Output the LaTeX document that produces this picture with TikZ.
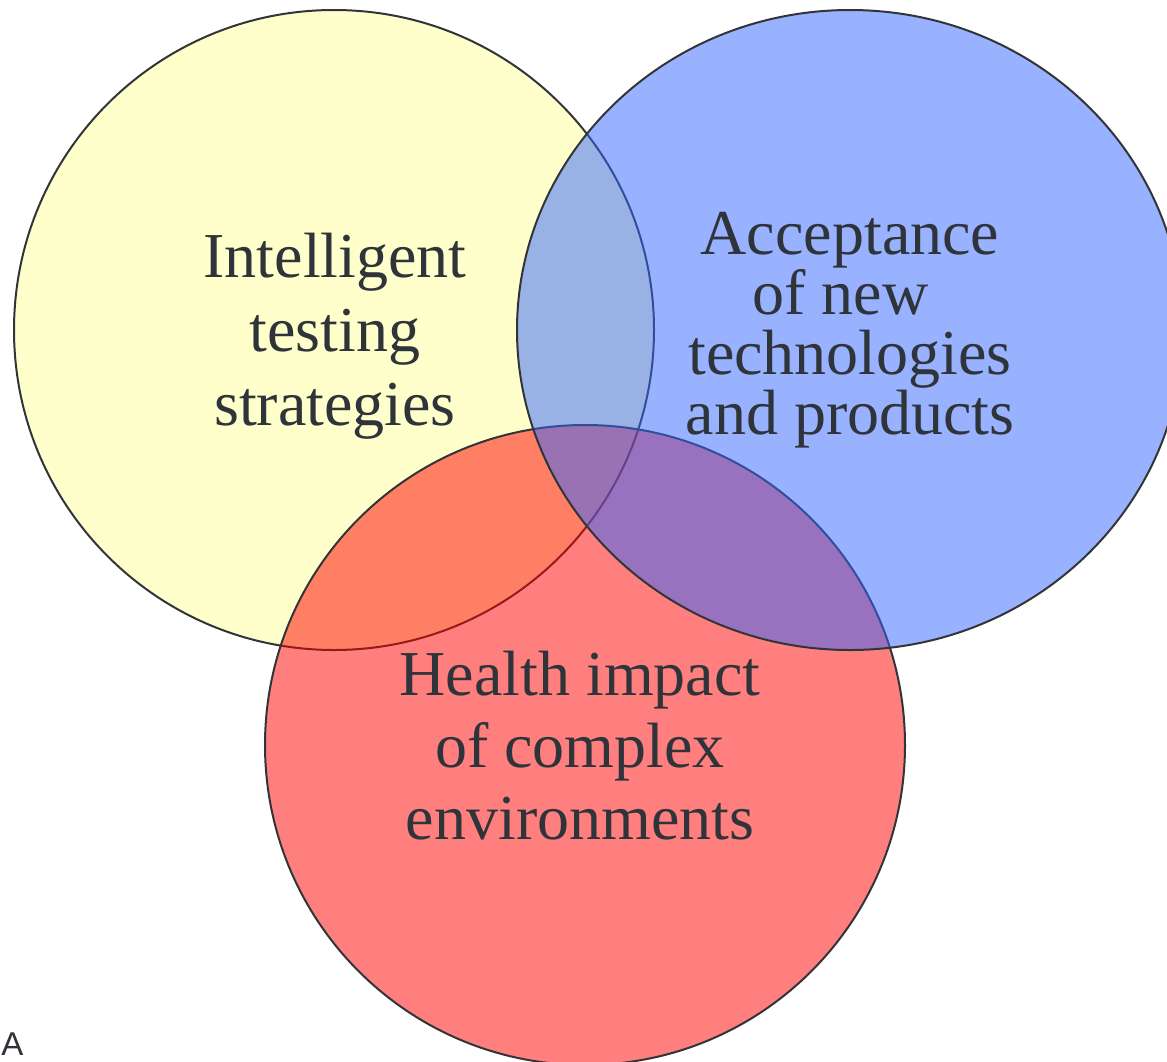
\documentclass[tikz,border=0pt]{standalone}
\usepackage{fontspec}
\setmainfont{Liberation Serif}
\newfontfamily\panelfont{Liberation Sans}

\definecolor{vennyellow}{RGB}{255,255,153}
\definecolor{vennred}{RGB}{255,0,0}
\definecolor{vennblue}{RGB}{51,103,255}
\definecolor{vennline}{RGB}{50,52,55}
\definecolor{venntext}{RGB}{46,52,57}

\begin{document}
\begin{tikzpicture}[x=0.5pt, y=-0.5pt,
    set/.style={draw=vennline, line width=1pt, fill opacity=0.5},
    setlabel/.style={text=venntext, align=center, anchor=base, inner sep=0pt}]
  \useasboundingbox (0,0) rectangle (1167,1061);
  \fill[white] (0,0) rectangle (1167,1061);

  % the three sets, drawn yellow, red, blue
  \path[set, fill=vennyellow] (334,330) circle[radius=320];
  \path[set, fill=vennred]    (585,745) circle[radius=320];
  \path[set, fill=vennblue]   (850,330) ellipse[x radius=333, y radius=320];

  % anchor=base sits on the last line
  \node[setlabel, font=\fontsize{32}{37}\selectfont] (intelligent) at (335,425)
       {Intelligent\\testing\\strategies};
  \node[setlabel, font=\fontsize{32}{30}\selectfont] (acceptance)  at (850,434)
       {Acceptance\\of new\makebox[0.3em]{}\\technologies\\and products};
  \node[setlabel, font=\fontsize{32}{36}\selectfont] (health)      at (580,839)
       {Health impact\\of complex\\environments};

  \node[text=venntext, anchor=base west, inner sep=0pt,
        font=\panelfont\fontsize{16.5}{20}\selectfont] (panel) at (1,1055) {A};
\end{tikzpicture}
\end{document}
